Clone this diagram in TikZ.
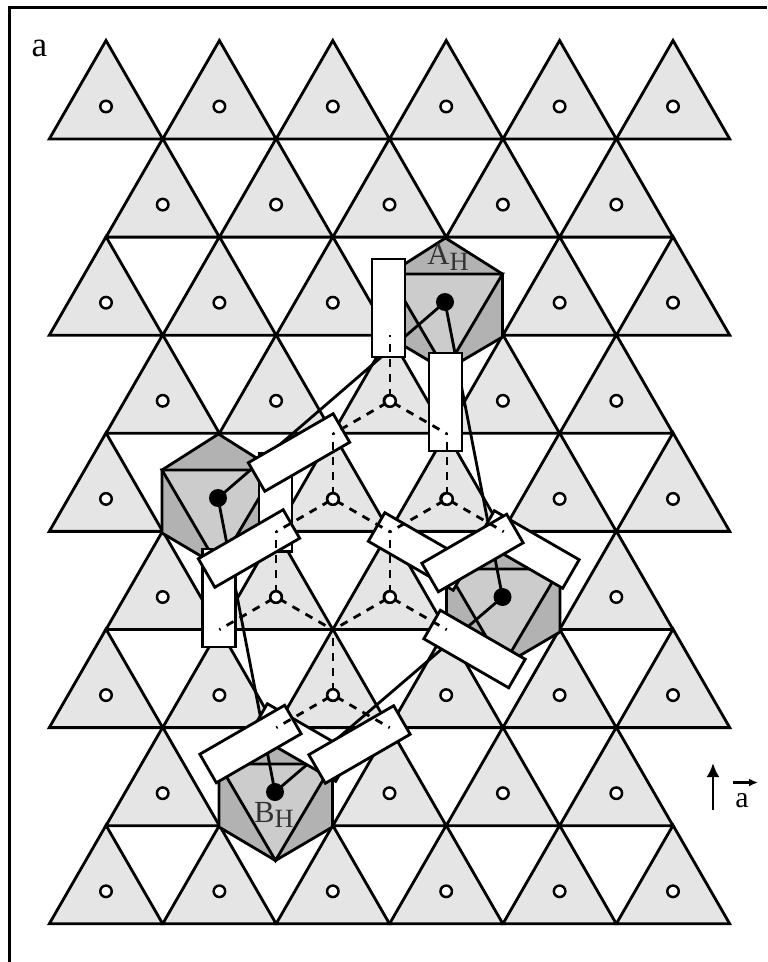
\documentclass[tikz,border=0pt]{standalone}
\usepackage{fontspec}
\setmainfont{Liberation Serif}
\usetikzlibrary{arrows.meta}
\definecolor{triafill}{gray}{0.9}
\definecolor{octalight}{gray}{0.8}
\definecolor{octadark}{gray}{0.7}
\definecolor{labelgray}{gray}{0.2}
\tikzset{
	edge/.style={line width=1.6pt,line join=miter},
	tria/.style={edge,fill=triafill},
	octa/.style={edge,fill=octadark},
	octb/.style={edge,fill=octalight},
	bar/.style={draw,fill=white,line width=1.6pt,rotate=#1,minimum width=1.96cm,minimum height=0.66cm,inner sep=0pt},
	dashline/.style={line width=1.6pt,dash pattern=on 8*0.02cm off 7*0.02cm,dash phase=11*0.02cm},
	hollow/.style={circle,draw,fill=white,line width=1.4pt,minimum size=0.23cm,inner sep=0pt},
	solid dot/.style={circle,fill=black,minimum size=0.36cm,inner sep=0pt},
	hlabel/.style={text=labelgray,font=\fontsize{17.5pt}{17.5pt}\selectfont,inner sep=0pt}
}
\newcommand{\subH}{\raisebox{-0.42ex}{\fontsize{15pt}{15pt}\selectfont H}}
% one octahedron, #1 = name of the centre, #2 = centre
\newcommand{\octahedron}[2]{
	\begin{scope}[shift={(#2)}]
		\draw[octa] (0.5,-64) -- (57.5,-28) -- (57.5,35) -- (0.5,68.5) -- (-56,35) -- (-56,-28) -- cycle;
		\draw[octb] (-56,-28) -- (57.5,-28) -- (0.5,68.5) -- cycle;
		\coordinate (#1) at (0,0);
	\end{scope}
}
\begin{document}
\begin{tikzpicture}[x=0.02cm,y=-0.02cm]
	\useasboundingbox (0,0) rectangle (767,962);
	\draw[line width=1.9pt] (9.5,962) -- (9.5,7.5) -- (767,7.5);
	\node[font=\fontsize{20pt}{20pt}\selectfont,inner sep=0pt,anchor=base] (panel) at (39.5,57) {a};
	% lattice, rows of six and of five
	\foreach \row in {0,2,4,6,8} \foreach \col in {0,...,5} {
		\draw[tria] ({106+113.4*\col},{40.5+98.1*\row}) -- ++(56.7,98.5) -- ++(-113.4,0) -- cycle;
		\node[hollow] (c\row-\col) at ({106+113.4*\col},{106.5+98.1*\row}) {};
	}
	\foreach \row in {1,3,5,7} \foreach \col in {0,...,4} {
		\draw[tria] ({162.7+113.4*\col},{40.5+98.1*\row}) -- ++(56.7,98.5) -- ++(-113.4,0) -- cycle;
		\node[hollow] (c\row-\col) at ({162.7+113.4*\col},{106.5+98.1*\row}) {};
	}
	% octahedra
	\octahedron{octA}{445,302}
	\octahedron{octL}{218,498}
	\octahedron{octC}{502.5,597}
	\octahedron{octB}{275,792}
	\draw[edge] (octA) -- (octL) -- (octB) -- (octC) -- (octA);
	\node[solid dot] (dotA) at (octA) {};
	\node[solid dot] (dotL) at (octL) {};
	\node[solid dot] (dotC) at (octC) {};
	\node[solid dot] (dotB) at (octB) {};
	\node[hlabel,anchor=base] (labA) at (448,265) {A\subH};
	\node[hlabel,anchor=base] (labB) at (274,822) {B\subH};
	% bars
	\node[bar=90] (bar1) at (388.5,308) {};
	\node[bar=90] (bar2) at (445.5,402) {};
	\node[bar=90] (bar3) at (275.5,502.5) {};
	\node[bar=90] (bar4) at (219,598) {};
	\node[bar=30] (bar5) at (299,452.5) {};
	\node[bar=30] (bar6) at (249,548.5) {};
	\node[bar=-30] (bar7) at (419,551.5) {};
	\node[bar=-30] (bar9) at (528.5,549.5) {};
	\node[bar=30] (bar8) at (472.5,553) {};
	\node[bar=-30] (bar10) at (474.5,649) {};
	\node[bar=-30] (bar12) at (301.5,742.5) {};
	\node[bar=30] (bar11) at (250.5,744) {};
	\node[bar=30] (bar13) at (359.5,744.5) {};
	% dashed stars, centre to corners
	\foreach \cx/\cy in {390/401,333/499,447/499,276/597,390/597,333/695} {
		\draw[dashline] (\cx,\cy) -- ++(0,-66);
		\draw[dashline] (\cx,\cy) -- ++(-56.7,32.7);
		\draw[dashline] (\cx,\cy) -- ++(56.7,32.7);
		\node[hollow] at (\cx,\cy) {};
	}
	% direction mark
	\coordinate (up0) at (713,810);
	\coordinate (up1) at (713,763);
	\coordinate (vec0) at (733,782.5);
	\coordinate (vec1) at (758,782.5);
	\draw[line width=1.6pt,-{Latex[length=14*0.02cm,width=13*0.02cm]}] (up0) -- (up1);
	\draw[line width=1.2pt,-{Latex[length=9*0.02cm,width=8*0.02cm]}] (vec0) -- (vec1);
	\node[font=\fontsize{17pt}{17pt}\selectfont,inner sep=0pt,anchor=base] (vecname) at (742,807) {a};
\end{tikzpicture}
\end{document}
